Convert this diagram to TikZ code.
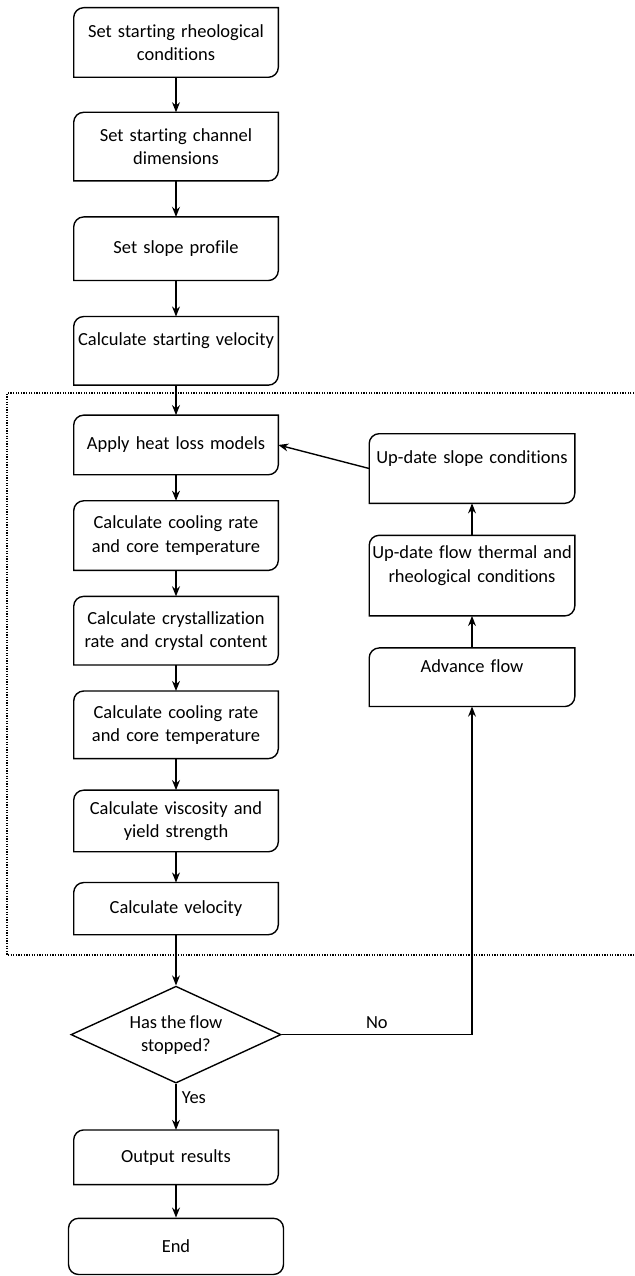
\documentclass[tikz,border=0pt]{standalone}
\usepackage{fontspec}
\setmainfont{Carlito}[Ligatures=NoCommon, WordSpace=0.9]
\usetikzlibrary{arrows.meta,positioning,shapes.geometric}

\begin{document}
\begin{tikzpicture}[
    x=0.65pt, y=-0.65pt,
    font=\fontsize{12}{15}\selectfont,
    stepbox/.style={text width=131.6pt, align=center, inner xsep=0.5pt, inner ysep=0pt},
    sidebox/.style={stepbox, text width=132.25pt},
    endbox/.style={stepbox, draw, line width=0.9pt, rounded corners=6.5pt, text width=138.75pt},
    decision/.style={diamond, draw, line width=0.9pt, aspect=2.17, inner sep=0pt, minimum width=136.5pt, minimum height=63pt, align=center},
    outline/.style={line width=0.9pt},
    arr/.style={-{Stealth[length=2.3mm, width=1.8mm]}, line width=0.9pt},
    loopframe/.style={line width=0.8pt, dash pattern=on 0.8pt off 0.9pt}
]
    \useasboundingbox (0,0) rectangle (635,1276);

    % main column
    \node[stepbox, minimum height=44.85pt] (start) at (176,42.5) {Set starting rheological\\conditions};
    \node[stepbox, minimum height=44.2pt, below=22.75pt of start] (chan) {Set starting channel\\dimensions};
    \node[stepbox, minimum height=40.95pt, below=23.4pt of chan] (slope) {Set slope profile};
    \node[stepbox, minimum height=44.2pt, below=23.4pt of slope] (startvel) {Calculate starting velocity\\\mbox{}};
    \node[stepbox, minimum height=38.35pt, below=19.5pt of startvel] (heat) {Apply heat loss models};
    \node[stepbox, minimum height=44.85pt, below=16.9pt of heat] (coolA) {Calculate cooling rate\\and core temperature};
    \node[stepbox, minimum height=44.2pt, below=16.9pt of coolA] (cryst) {Calculate crystallization\\rate and crystal content};
    \node[stepbox, minimum height=43.55pt, below=16.9pt of cryst] (coolB) {Calculate cooling rate\\and core temperature};
    \node[stepbox, minimum height=39.65pt, below=20.5pt of coolB] (visc) {Calculate viscosity and\\yield strength};
    \node[stepbox, minimum height=33.5pt, below=20pt of visc] (vel) {Calculate velocity};
    \node[decision, below=33pt of vel] (stop) {Has the flow\\stopped?};
    \node[stepbox, minimum height=35.1pt, below=30pt of stop] (out) {Output results};
    \node[endbox, minimum height=36.5pt, below=21.5pt of out] (finish) {End};

    % update loop
    \node[sidebox, minimum height=44.85pt] (upslope) at (472,468.5) {Up-date slope conditions\\\mbox{}};
    \node[sidebox, minimum height=52pt, below=20.8pt of upslope] (upflow) {Up-date flow thermal and\\rheological conditions\\\mbox{}};
    \node[sidebox, minimum height=37.7pt, below=20.8pt of upflow] (adv) {Advance flow\\\mbox{}};

    \foreach \n in {start,chan,slope,startvel,heat,coolA,cryst,coolB,visc,vel,out,upslope,upflow,adv}
        \draw[outline] ([yshift=-6.5pt]\n.north west) arc[start angle=180, end angle=90, radius=6.5pt]
            -- (\n.north east) -- ([yshift=6.5pt]\n.south east) arc[start angle=0, end angle=-90, radius=6.5pt]
            -- (\n.south west) -- cycle;

    \draw[loopframe] (634,393) -- (7,393) -- (7,955) -- (634,955);

    \draw[arr] (start) -- (chan);
    \draw[arr] (chan) -- (slope);
    \draw[arr] (slope) -- (startvel);
    \draw[arr] (startvel) -- (heat);
    \draw[arr] (heat) -- (coolA);
    \draw[arr] (coolA) -- (cryst);
    \draw[arr] (cryst) -- (coolB);
    \draw[arr] (coolB) -- (visc);
    \draw[arr] (visc) -- (vel);
    \draw[arr] (vel) -- (stop);
    \draw[arr] (stop) -- node[pos=0.3, right]{Yes} (out);
    \draw[arr] (out) -- (finish);
    \draw[arr] (stop.east) -| node[pos=0.25, above]{No} (adv.south);
    \draw[arr] (adv) -- (upflow);
    \draw[arr] (upflow) -- (upslope);
    \draw[arr] (upslope.west) -- (heat.east);
\end{tikzpicture}
\end{document}
